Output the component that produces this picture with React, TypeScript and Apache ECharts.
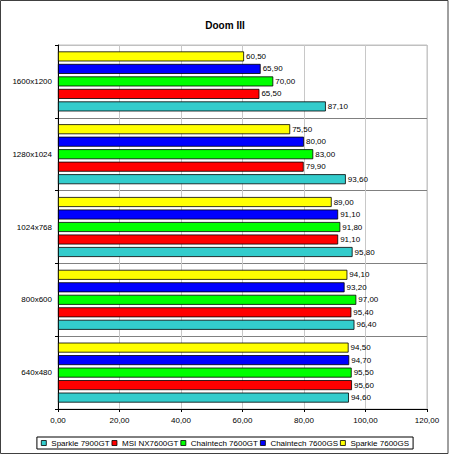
import React, { useEffect, useRef } from "react";
import * as echarts from "echarts";

const categories = ["640x480", "800x600", "1024x768", "1280x1024", "1600x1200"];
const seriesNames = ["Sparkle 7900GT", "MSI NX7600GT", "Chaintech 7600GT", "Chaintech 7600GS", "Sparkle 7600GS"];
const sparkle7900GT = [94.6, 96.4, 95.8, 93.6, 87.1];
const msiNX7600GT = [95.6, 95.4, 91.1, 79.9, 65.5];
const chaintech7600GT = [95.5, 97.0, 91.8, 83.0, 70.0];
const chaintech7600GS = [94.7, 93.2, 91.1, 80.0, 65.9];
const sparkle7600GS = [94.5, 94.1, 89.0, 75.5, 60.5];
const seriesColors = ["#33CCCC", "#FF0000", "#00FF00", "#0000FF", "#FFFF00"];
const seriesValues = [sparkle7900GT, msiNX7600GT, chaintech7600GT, chaintech7600GS, sparkle7600GS];

const FONT = "'Liberation Sans', Arial, sans-serif";
const fmt = (v: number) => v.toFixed(2).replace(".", ",");

export default function App() {
  const ref = useRef<HTMLDivElement>(null);
  useEffect(() => {
    if (!ref.current) return;
    const chart = echarts.init(ref.current, null, { renderer: "svg" });
    // ECharts stacks horizontal bar series top-down, so series are added in reverse order
    const order = [4, 3, 2, 1, 0];
    chart.setOption({
      animation: false,
      backgroundColor: "#ffffff",
      textStyle: { fontFamily: FONT },
      title: {
        text: "Doom III",
        left: "center",
        top: 15,
        textStyle: { fontSize: 10, fontWeight: "bold", color: "#000", fontFamily: FONT },
      },
      grid: {
        left: 58,
        right: 23,
        top: 45,
        bottom: 47,
        show: true,
        borderColor: "#c0c0c0",
        borderWidth: 1,
        backgroundColor: "#ffffff",
      },
      legend: {
        data: seriesNames,
        left: "center",
        top: 437,
        orient: "horizontal",
        icon: "rect",
        itemWidth: 5,
        itemHeight: 5,
        itemGap: 2,
        padding: [2, 4],
        borderColor: "#000",
        borderWidth: 1,
        textStyle: { fontSize: 8, color: "#000", fontFamily: FONT },
        itemStyle: { borderColor: "#000", borderWidth: 0.8 },
      },
      xAxis: {
        type: "value",
        min: 0,
        max: 120,
        interval: 20,
        axisLine: { show: true, lineStyle: { color: "#000", width: 1 } },
        axisTick: { show: true, length: 3, lineStyle: { color: "#000" } },
        axisLabel: { formatter: (v: number) => fmt(v), fontSize: 8, color: "#000", margin: 7, fontFamily: FONT },
        splitLine: { show: true, lineStyle: { color: "#c8c8c8", width: 1 } },
      },
      yAxis: {
        type: "category",
        data: categories,
        axisLine: { show: true, lineStyle: { color: "#000", width: 1 } },
        axisTick: { show: true, length: 3, lineStyle: { color: "#000" } },
        axisLabel: { fontSize: 8, color: "#000", margin: 6, fontFamily: FONT },
        splitLine: {
          show: true,
          lineStyle: { color: ["#808080", "#808080", "#808080", "#808080", "#808080", "#c0c0c0"], width: 1 },
        },
      },
      graphic: [
        {
          type: "rect",
          shape: { x: 0.5, y: 0.5, width: 447.5, height: 453 },
          style: { fill: "none", stroke: "#404040", lineWidth: 1 },
          z: 100,
          silent: true,
        },
      ],
      series: order.map((i) => ({
        name: seriesNames[i],
        type: "bar",
        data: seriesValues[i],
        barWidth: 10,
        barGap: "25%",
        itemStyle: { color: seriesColors[i], borderColor: "#000", borderWidth: 0.8 },
        label: {
          show: true,
          position: "right",
          distance: 2,
          formatter: (p: any) => fmt(p.value),
          fontSize: 8,
          color: "#000",
          fontFamily: FONT,
        },
      })),
    });
    return () => chart.dispose();
  }, []);
  return <div ref={ref} style={{ position: "absolute", left: 0, top: 0, width: 450, height: 456 }} />;
}
